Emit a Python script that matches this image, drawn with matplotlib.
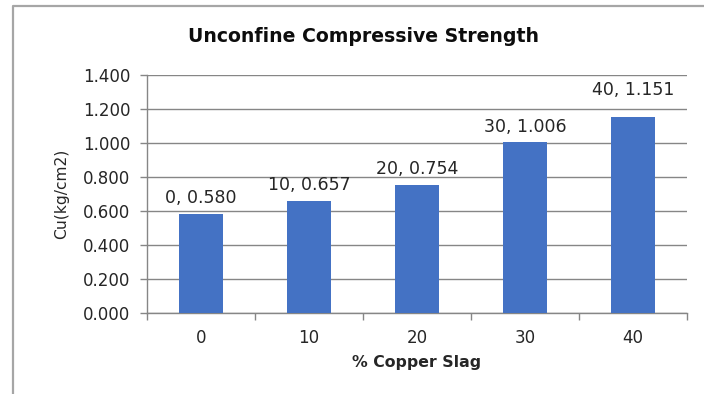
import matplotlib
matplotlib.use("Agg")
import matplotlib.pyplot as plt
from matplotlib.lines import Line2D

# Copper slag content (%) and unconfined compressive strength
categories = ["0", "10", "20", "30", "40"]
strength = [0.580, 0.657, 0.754, 1.006, 1.151]
y_ticks = [0.0, 0.2, 0.4, 0.6, 0.8, 1.0, 1.2, 1.4]

W, H = 704, 394
fig = plt.figure(figsize=(W / 100, H / 100), dpi=100)
plt.rcParams["font.family"] = ["DejaVu Sans"]

grey = "#868686"
text_c = "#262626"

# outer chart frame
fig.add_artist(Line2D([12.5 / W, 12.5 / W, 1.0], [0.0, 1 - 6 / H, 1 - 6 / H],
                      transform=fig.transFigure, color="#a6a6a6", lw=1.6))

ax = fig.add_axes([147 / W, 81 / H, 540 / W, 238 / H])
x = list(range(len(categories)))
ax.bar(x, strength, width=0.4, color="#4472C4", zorder=3)

ax.set_xlim(-0.5, len(categories) - 0.5)
ax.set_ylim(0, 1.4)
ax.set_yticks(y_ticks)
ax.set_yticklabels([f"{v:.3f}" for v in y_ticks], fontsize=12, color=text_c)
ax.set_xticks(x)
ax.set_xticklabels(categories, fontsize=12, color=text_c)
ax.set_xticks([i - 0.5 for i in range(len(categories) + 1)], minor=True)
ax.tick_params(axis="x", which="major", length=0, pad=11.5)
ax.tick_params(axis="x", which="minor", length=5, color=grey, width=1)
ax.tick_params(axis="y", length=5, color=grey, width=1, pad=7)

ax.grid(axis="y", color=grey, lw=1, zorder=0)
for side in ("top", "right"):
    ax.spines[side].set_visible(False)
for side in ("left", "bottom"):
    ax.spines[side].set_color(grey)
    ax.spines[side].set_linewidth(1)

# value labels; the last one sits a little higher above its bar
label_lift = [5, 5, 5, 4.5, 13]
for xi, cat, v, lift in zip(x, categories, strength, label_lift):
    ax.annotate(f"{cat}, {v:.3f}", (xi, v), xytext=(0, lift), textcoords="offset points",
                ha="center", va="bottom", fontsize=12.5, color=text_c)

ax.set_xlabel("% Copper Slag", fontsize=11.3, fontweight="bold", color=text_c, labelpad=6)
ax.set_ylabel("Cu(kg/cm2)", fontsize=11.2, color=text_c, labelpad=10)
fig.text(364 / W, 1 - 37 / H, "Unconfine Compressive Strength", ha="center", va="center",
         fontsize=13.6, fontweight="bold", color="#0d0d0d")

fig.savefig("out.png", dpi=100)
